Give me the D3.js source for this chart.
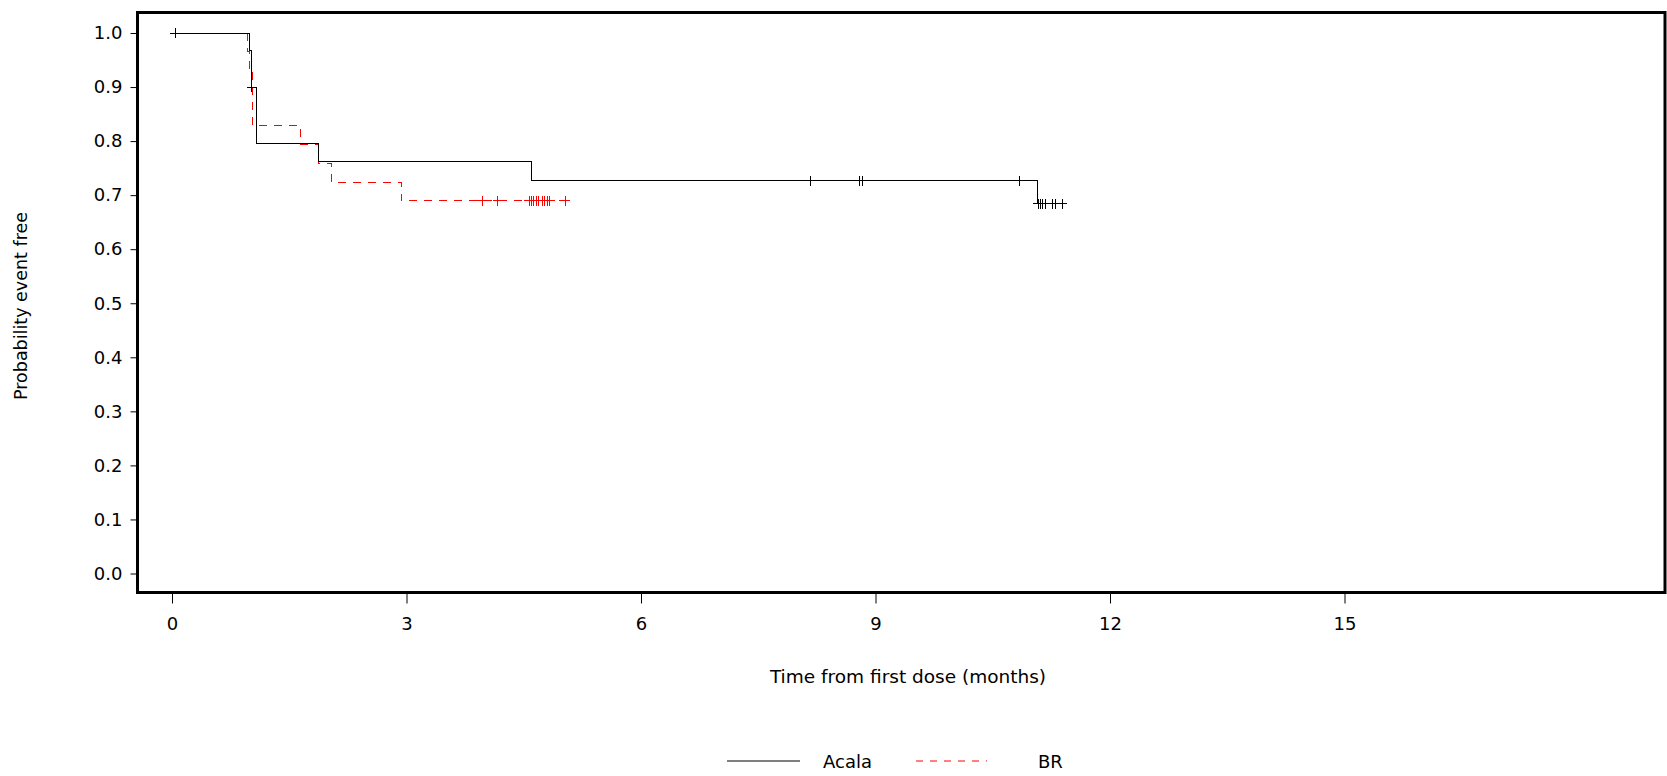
<!DOCTYPE html>
<html>
<head>
<meta charset="utf-8">
<script src="https://cdn.jsdelivr.net/npm/d3@7"></script>
<style>
  body { margin: 0; background: #fff; }
  svg text { font-family: "DejaVu Sans", Verdana, sans-serif; fill: #000; }
</style>
</head>
<body>
<svg id="chart" width="1667" height="776"></svg>
<script>
// step points: [time in months, survival after the step]
var acala_steps = [[0, 1.0], [0.99, 0.967], [1.02, 0.9], [1.08, 0.796], [1.87, 0.763], [4.60, 0.727], [11.07, 0.6845], [11.39, 0.6845]];
var acala_censor = [[0.04, 1.0], [1.02, 0.9], [8.17, 0.727], [8.80, 0.727], [8.83, 0.727], [10.84, 0.727],
                    [11.08, 0.6845], [11.11, 0.6845], [11.14, 0.6845], [11.18, 0.6845], [11.27, 0.6845], [11.30, 0.6845], [11.39, 0.6845]];
var br_steps = [[0, 1.0], [0.96, 0.966], [0.99, 0.931], [1.03, 0.828], [1.65, 0.793], [1.87, 0.759], [2.04, 0.724], [2.93, 0.690], [5.03, 0.690]];
var br_censor = [[3.97, 0.69], [4.17, 0.69], [4.57, 0.69], [4.60, 0.69], [4.63, 0.69], [4.66, 0.69], [4.69, 0.69],
                 [4.74, 0.69], [4.77, 0.69], [4.80, 0.69], [4.83, 0.69], [5.03, 0.69]];
var x_ticks = [0, 3, 6, 9, 12, 15];
var y_ticks = [0, 0.1, 0.2, 0.3, 0.4, 0.5, 0.6, 0.7, 0.8, 0.9, 1.0];
var series_names = ["Acala", "BR"];

var chart = d3.select("#chart");

var xScale = d3.scaleLinear().domain([0, 15]).range([172, 1344.5]);
var yScale = d3.scaleLinear().domain([0, 1]).range([573.5, 33]);

var frameL = 137.5, frameT = 12.5, frameR = 1665, frameB = 592.5;

// axes
var yAxis = chart.append("g")
    .attr("transform", "translate(" + frameL + ",0)")
    .call(d3.axisLeft(yScale).tickValues(y_ticks).tickFormat(d3.format(".1f")).tickSize(7).tickPadding(8));
yAxis.select(".domain").remove();
yAxis.selectAll("text").style("font-size", "18px");

var xAxis = chart.append("g")
    .attr("transform", "translate(0," + frameB + ")")
    .call(d3.axisBottom(xScale).tickValues(x_ticks).tickSize(11).tickPadding(14));
xAxis.select(".domain").remove();
xAxis.selectAll("text").style("font-size", "18px");

// curves
var line = d3.line()
    .x(function(d) { return xScale(d[0]); })
    .y(function(d) { return yScale(d[1]); })
    .curve(d3.curveStepAfter);

chart.append("path")
    .datum(br_steps)
    .attr("d", line)
    .attr("fill", "none")
    .attr("stroke", "#ff0000")
    .attr("stroke-width", 1)
    .attr("stroke-dasharray", "8,7")
    .attr("shape-rendering", "crispEdges");

chart.append("path")
    .datum(acala_steps)
    .attr("d", line)
    .attr("fill", "none")
    .attr("stroke", "#000")
    .attr("stroke-width", 1)
    .attr("shape-rendering", "crispEdges");

function censorMarks(data, color) {
    var g = chart.append("g").attr("shape-rendering", "crispEdges");
    data.forEach(function(d) {
        var cx = xScale(d[0]), cy = yScale(d[1]);
        g.append("line").attr("x1", cx - 5).attr("x2", cx + 5).attr("y1", cy).attr("y2", cy)
            .attr("stroke", color).attr("stroke-width", 1);
        g.append("line").attr("x1", cx).attr("x2", cx).attr("y1", cy - 5).attr("y2", cy + 5)
            .attr("stroke", color).attr("stroke-width", 1);
    });
}
censorMarks(br_censor, "#ff0000");
censorMarks(acala_censor, "#000");

// frame
chart.append("rect")
    .attr("x", frameL).attr("y", frameT)
    .attr("width", frameR - frameL).attr("height", frameB - frameT)
    .attr("fill", "none").attr("stroke", "#000").attr("stroke-width", 3);

// axis titles
chart.append("text")
    .text("Time from first dose (months)")
    .attr("x", 908).attr("y", 683)
    .style("text-anchor", "middle")
    .style("font-size", "18.5px");

chart.append("text")
    .text("Probability event free")
    .attr("transform", "translate(27,306) rotate(-90)")
    .style("text-anchor", "middle")
    .style("font-size", "17.5px");

// legend
var legend = chart.append("g");
legend.append("line").attr("x1", 727).attr("x2", 800).attr("y1", 761).attr("y2", 761)
    .attr("stroke", "#000").attr("stroke-width", 1);
legend.append("text").text(series_names[0]).attr("x", 823).attr("y", 768).style("font-size", "18px");
legend.append("line").attr("x1", 916).attr("x2", 987).attr("y1", 761).attr("y2", 761)
    .attr("stroke", "#ff0000").attr("stroke-width", 1).attr("stroke-dasharray", "7,7");
legend.append("text").text(series_names[1]).attr("x", 1038).attr("y", 768).style("font-size", "18px");
</script>
</body>
</html>
